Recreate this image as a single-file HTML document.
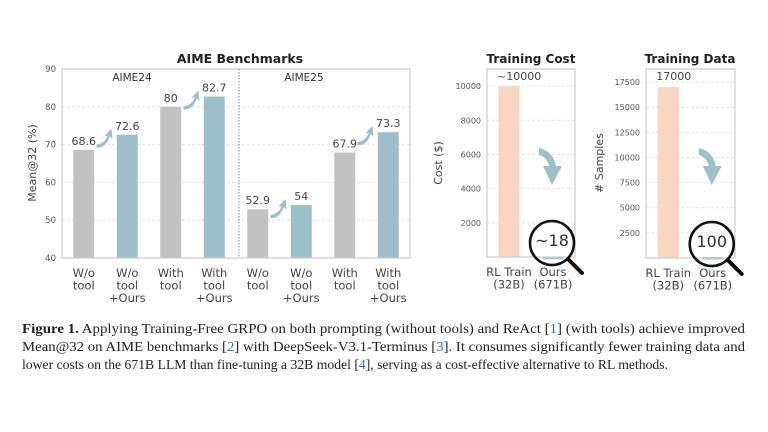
<!DOCTYPE html>
<html><head><meta charset="utf-8"><style>
body{margin:0;background:#fff;width:768px;height:432px;overflow:hidden}
svg{display:block}
text{font-family:"DejaVu Sans","Liberation Sans",sans-serif}
.cap{font-family:"Liberation Serif",serif;font-size:13.5px;fill:#222}
</style></head><body>
<svg id="s" width="768" height="432">
<text x="240" y="63" text-anchor="middle" font-size="12.5" font-weight="bold" fill="#222">AIME Benchmarks</text>
<text x="531" y="63" text-anchor="middle" font-size="12" font-weight="bold" fill="#222">Training Cost</text>
<text x="690" y="63" text-anchor="middle" font-size="12" font-weight="bold" fill="#222">Training Data</text>
<text x="36" y="163" transform="rotate(-90 36 163)" text-anchor="middle" font-size="11" fill="#444">Mean@32 (%)</text>
<text x="442" y="163" transform="rotate(-90 442 163)" text-anchor="middle" font-size="11" fill="#444">Cost ($)</text>
<text x="603" y="163" transform="rotate(-90 603 163)" text-anchor="middle" font-size="11" fill="#444"># Samples</text>
<text x="132" y="81" text-anchor="middle" font-size="10.5" fill="#333">AIME24</text>
<text x="304" y="81" text-anchor="middle" font-size="10.5" fill="#333">AIME25</text>
<g>
<text class="cap" x="22" y="333" textLength="723" lengthAdjust="spacingAndGlyphs"><tspan font-weight="bold">Figure 1.</tspan> Applying Training-Free GRPO on both prompting (without tools) and ReAct [<tspan fill="#3a6fc4">1</tspan>] (with tools) achieve improved</text>
<text class="cap" x="22" y="351" textLength="723" lengthAdjust="spacingAndGlyphs">Mean@32 on AIME benchmarks [<tspan fill="#3a6fc4">2</tspan>] with DeepSeek-V3.1-Terminus [<tspan fill="#3a6fc4">3</tspan>]. It consumes significantly fewer training data and</text>
<text class="cap" x="22" y="369" textLength="646" lengthAdjust="spacingAndGlyphs">lower costs on the 671B LLM than fine-tuning a 32B model [<tspan fill="#3a6fc4">4</tspan>], serving as a cost-effective alternative to RL methods.</text>
</g>
</svg>
<script>
const aimeCats=[["W/o","tool"],["W/o","tool","+Ours"],["With","tool"],["With","tool","+Ours"],["W/o","tool"],["W/o","tool","+Ours"],["With","tool"],["With","tool","+Ours"]];
const aimeVals=[68.6,72.6,80,82.7,52.9,54,67.9,73.3];
const aimeLabels=["68.6","72.6","80","82.7","52.9","54","67.9","73.3"];
const aimeTicks=[40,50,60,70,80,90];
const costCats=[["RL Train","(32B)"],["Ours","(671B)"]];
const costVals=[10000,18];
const costLabels=["~10000","~18"];
const costTicks=[2000,4000,6000,8000,10000];
const dataCats=[["RL Train","(32B)"],["Ours","(671B)"]];
const dataVals=[17000,100];
const dataLabels=["17000","100"];
const dataTicks=[2500,5000,7500,10000,12500,15000,17500];

const S=document.getElementById('s');
const NS='http://www.w3.org/2000/svg';
function mk(tag,attrs,parent){const e=document.createElementNS(NS,tag);for(const k in attrs)e.setAttribute(k,attrs[k]);(parent||S).appendChild(e);return e;}
function txt(x,y,s,fs,fill,anchor){const t=mk('text',{x:x,y:y,'font-size':fs,fill:fill||'#444','text-anchor':anchor||'middle'});t.textContent=s;return t;}

function panel(cfg){
  const {L,R,T,B,ymin,ymax,ticks,cats,vals,labels,colors,bw,name,tickFs}=cfg;
  const y=v=>B-(v-ymin)/(ymax-ymin)*(B-T);
  const n=vals.length, step=(R-L)/n;
  const x=i=>L+step*(i+0.5);
  ticks.forEach(tv=>{
    const g=mk('line',{x1:L,x2:R,y1:y(tv),y2:y(tv),stroke:'#ddd','stroke-dasharray':'3,2','stroke-width':0.8});
    
    
    const t=txt(L-6,y(tv)+3,String(tv),tickFs,'#555','end');
    
    
  });
  vals.forEach((v,i)=>{
    const top=y(v);
    const r=mk('rect',{x:x(i)-bw/2,y:top,width:bw,height:Math.max(B-top,2.5),fill:colors[i]});
    
    
    cats[i].forEach((ln,j)=>{const t=txt(x(i),B+19+j*12.5,ln,11.5,'#444');
      
      });
  });
  const bx=mk('rect',{x:L,y:T,width:R-L,height:B-T,fill:'none',stroke:'#ccc','stroke-width':1.2});
  
  
  return {x,y,step};
}

const blue='#9dbfca',gray='#c2c2c2',peach='#f8d6c1';
const A=panel({L:62,R:410,T:69,B:258,ymin:40,ymax:90,ticks:aimeTicks,cats:aimeCats,vals:aimeVals,labels:aimeLabels,
  colors:aimeVals.map((v,i)=>i%2?blue:gray),bw:21,name:'aime',tickFs:8.5});
const dv=mk('line',{x1:239,x2:239,y1:69,y2:258,stroke:'#777','stroke-dasharray':'1.5,1.5','stroke-width':0.9});


aimeVals.forEach((v,i)=>{
  const t=txt(A.x(i),A.y(v)-5,aimeLabels[i],11,'#444');
  
  
  if(i%2===1){
    const xm=(A.x(i-1)+A.x(i))/2, ym=A.y(aimeVals[i])-2;
    const p=mk('path',{d:`M${xm-9},${ym+12} Q${xm},${ym+10} ${xm+2},${ym+3} L${xm-1},${ym+3} L${xm+6},${ym-4} L${xm+7},${ym+6} L${xm+4},${ym+4} Q${xm+1},${ym+15} ${xm-9},${ym+15} Z`,fill:blue});
    
    
  }
});

function small(cfg,labels){
  const P=panel(cfg);
  const t=txt(P.x(0)-12,cfg.T+11,labels[0],11,'#444','start');
  
  
  const ax=P.x(1)-14,ay=cfg.T+79;
  const a=mk('path',{d:`M${ax},${ay} Q${ax+14},${ay+3} ${ax+17},${ay+18} L${ax+23},${ay+18} L${ax+13},${ay+37} L${ax+4},${ay+18} L${ax+10},${ay+18} Q${ax+8},${ay+9} ${ax},${ay+7} Z`,fill:blue});
  
  
  const cx=P.x(1)-1, cy=cfg.B-14;
  const c=mk('circle',{cx:cx,cy:cy,r:22,fill:'none',stroke:'#111','stroke-width':2.6});
  
  
  const h=mk('line',{x1:cx+16,y1:cy+16,x2:cx+30,y2:cy+30,stroke:'#111','stroke-width':4,'stroke-linecap':'round'});
  
  
  const m=txt(cx,cy+3,labels[1],16,'#333');
  
  
}
small({L:487,R:575,T:69,B:257,ymin:0,ymax:11000,ticks:costTicks,cats:costCats,vals:costVals,labels:costLabels,
  colors:[peach,blue],bw:21,name:'cost',tickFs:8},costLabels);
small({L:646,R:735,T:69,B:258,ymin:0,ymax:18800,ticks:dataTicks,cats:dataCats,vals:dataVals,labels:dataLabels,
  colors:[peach,blue],bw:21,name:'data',tickFs:8},dataLabels);
</script>
</body></html>
